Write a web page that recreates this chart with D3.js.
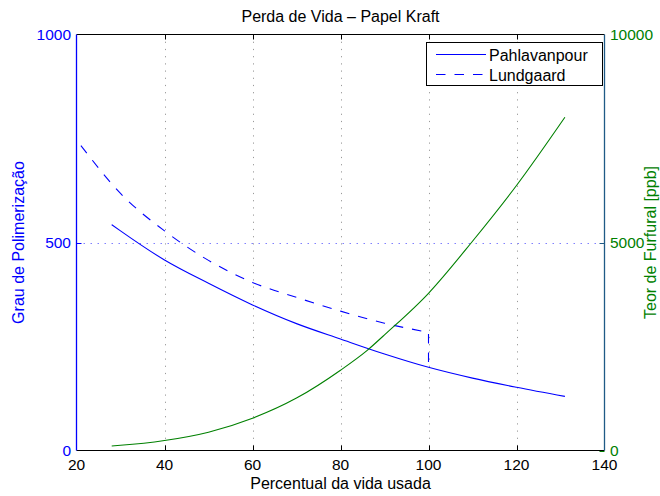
<!DOCTYPE html>
<html>
<head>
<meta charset="utf-8">
<script src="https://cdn.jsdelivr.net/npm/d3@7"></script>
<style>
  html, body { margin: 0; padding: 0; background: #fff; }
  svg text { font-family: "Liberation Sans", Arial, Helvetica, sans-serif; font-size: 15.5px; }
</style>
</head>
<body>
<svg id="chart" width="660" height="496"></svg>
<script>
// Percent of life used (x) and the two degree-of-polymerization models (left axis)
const pahlX = [28, 30, 40, 50, 60, 70, 80, 90, 100, 110, 120, 131];
const pahlDP = [543, 528, 458, 402, 350, 305, 268, 232, 200, 174, 152, 130];

const lundX = [21, 30, 40, 50, 60, 70, 80, 90, 100, 100];
const lundDP = [733, 618, 528, 457, 404, 368, 335, 306, 284, 200];

// Furfural content (right axis, ppb)
const furX = [28, 30, 40, 50, 60, 70, 80, 86, 90, 100, 110, 120, 131];
const furPPB = [110, 125, 240, 440, 776, 1260, 1930, 2400, 2780, 3780, 5030, 6370, 8010];

const xTicks = [20, 40, 60, 80, 100, 120, 140];
const leftTicks = [0, 500, 1000];
const rightTicks = [0, 5000, 10000];

const title = "Perda de Vida – Papel Kraft";
const xLabel = "Percentual da vida usada";
const leftLabel = "Grau de Polimerização";
const rightLabel = "Teor de Furfural [ppb]";
const seriesNames = ["Pahlavanpour", "Lundgaard"];

const BLUE = "#0000ff", GREEN = "#008000", RIGHT_AXIS = "#1f5a86";
const DASH = "9.5,9";

const svg = d3.select("#chart");
const L = 76.5, R = 604.5, T = 34.5, B = 450.5;

const x = d3.scaleLinear().domain([20, 140]).range([L, R]);
const yL = d3.scaleLinear().domain([0, 1000]).range([B, T]);
const yR = d3.scaleLinear().domain([0, 10000]).range([B, T]);

// vertical grid (dotted grey)
svg.append("g").selectAll("line")
  .data(xTicks.filter(d => d > 20 && d < 140))
  .join("line")
  .attr("x1", d => Math.round(x(d)) + 0.5).attr("x2", d => Math.round(x(d)) + 0.5)
  .attr("y1", T).attr("y2", B)
  .attr("stroke", "#9a9a9a").attr("stroke-width", 1)
  .attr("stroke-dasharray", "1.2,6");

// horizontal grid at 500 (dotted light blue)
svg.append("g").selectAll("line")
  .data(leftTicks.filter(d => d > 0 && d < 1000))
  .join("line")
  .attr("x1", L).attr("x2", R)
  .attr("y1", d => Math.round(yL(d)) + 0.5).attr("y2", d => Math.round(yL(d)) + 0.5)
  .attr("stroke", "#8080ff").attr("stroke-width", 1)
  .attr("stroke-dasharray", "1.5,5.5");

// curves
const curve = d3.curveMonotoneX;
const lineDP = d3.line().x(d => x(d[0])).y(d => yL(d[1])).curve(curve);
svg.append("path")
  .attr("d", lineDP(pahlX.map((v, i) => [v, pahlDP[i]])))
  .attr("fill", "none").attr("stroke", BLUE).attr("stroke-width", 1.1);

// Lundgaard: smooth part up to 100 %, then the vertical drop at 100 %
const lundPts = lundX.map((v, i) => [v, lundDP[i]]);
const smooth = lundPts.slice(0, -1);
const last = lundPts[lundPts.length - 1];
svg.append("path")
  .attr("d", lineDP(smooth) + "L" + x(last[0]) + "," + yL(last[1]))
  .attr("fill", "none").attr("stroke", BLUE).attr("stroke-width", 1.1)
  .attr("stroke-dasharray", DASH);

const lineFur = d3.line().x(d => x(d[0])).y(d => yR(d[1])).curve(curve);
svg.append("path")
  .attr("d", lineFur(furX.map((v, i) => [v, furPPB[i]])))
  .attr("fill", "none").attr("stroke", GREEN).attr("stroke-width", 1.1);

// axes frame
svg.append("line").attr("x1", L).attr("x2", R).attr("y1", T).attr("y2", T).attr("stroke", "#000");
svg.append("line").attr("x1", L).attr("x2", R).attr("y1", B).attr("y2", B).attr("stroke", "#000");
svg.append("line").attr("x1", L).attr("x2", L).attr("y1", T).attr("y2", B).attr("stroke", BLUE).attr("stroke-width", 1.3);
svg.append("line").attr("x1", R).attr("x2", R).attr("y1", T).attr("y2", B).attr("stroke", RIGHT_AXIS).attr("stroke-width", 1.3);

// x ticks (inward, bottom and top)
const tl = 5;
svg.append("g").selectAll("line").data(xTicks.slice(1, -1)).join("line")
  .attr("x1", d => Math.round(x(d)) + 0.5).attr("x2", d => Math.round(x(d)) + 0.5)
  .attr("y1", B).attr("y2", B - tl).attr("stroke", "#000");
svg.append("g").selectAll("line").data(xTicks.slice(1, -1)).join("line")
  .attr("x1", d => Math.round(x(d)) + 0.5).attr("x2", d => Math.round(x(d)) + 0.5)
  .attr("y1", T).attr("y2", T + tl).attr("stroke", "#000");
// left / right ticks
svg.append("g").selectAll("line").data(leftTicks.slice(1, -1)).join("line")
  .attr("x1", L).attr("x2", L + tl)
  .attr("y1", d => Math.round(yL(d)) + 0.5).attr("y2", d => Math.round(yL(d)) + 0.5).attr("stroke", BLUE);
svg.append("g").selectAll("line").data(rightTicks.slice(0, -1)).join("line")
  .attr("x1", R).attr("x2", R - tl)
  .attr("y1", d => Math.round(yR(d)) + 0.5).attr("y2", d => Math.round(yR(d)) + 0.5)
  .attr("stroke", d => d === 0 ? GREEN : RIGHT_AXIS);

// tick labels
svg.append("g").selectAll("text").data(xTicks).join("text")
  .attr("x", d => x(d)).attr("y", 469.5).attr("text-anchor", "middle")
  .attr("fill", "#000").text(d => d);
svg.append("g").selectAll("text").data(leftTicks).join("text")
  .attr("x", 71).attr("y", d => yL(d) + 5.5).attr("text-anchor", "end")
  .attr("fill", BLUE).text(d => d);
svg.append("g").selectAll("text").data(rightTicks).join("text")
  .attr("x", 610).attr("y", d => yR(d) + 5.5).attr("text-anchor", "start")
  .attr("fill", GREEN).text(d => d);

// titles
svg.append("text").attr("x", (L + R) / 2).attr("y", 22).attr("text-anchor", "middle")
  .attr("fill", "#000").style("font-size", "16px").text(title);
svg.append("text").attr("x", (L + R) / 2).attr("y", 489).attr("text-anchor", "middle")
  .attr("fill", "#000").style("font-size", "16px").text(xLabel);
svg.append("text").attr("transform", `translate(24,${(T + B) / 2}) rotate(-90)`)
  .attr("text-anchor", "middle").attr("fill", BLUE).style("font-size", "16px").text(leftLabel);
svg.append("text").attr("transform", `translate(656,${(T + B) / 2}) rotate(-90)`)
  .attr("text-anchor", "middle").attr("fill", GREEN).style("font-size", "16px").text(rightLabel);

// legend
const lg = svg.append("g");
lg.append("rect").attr("x", 426.5).attr("y", 42.5).attr("width", 176).attr("height", 43)
  .attr("fill", "#fff").attr("stroke", "#000");
const legendStyles = [null, DASH];
seriesNames.forEach((name, i) => {
  const yy = 54.5 + i * 20;
  lg.append("line").attr("x1", 436).attr("x2", 486).attr("y1", yy).attr("y2", yy)
    .attr("stroke", BLUE).attr("stroke-width", 1.1)
    .attr("stroke-dasharray", legendStyles[i]);
  lg.append("text").attr("x", 489).attr("y", yy + 6).attr("fill", "#000")
    .style("font-size", "16px").text(name);
});
</script>
</body>
</html>
